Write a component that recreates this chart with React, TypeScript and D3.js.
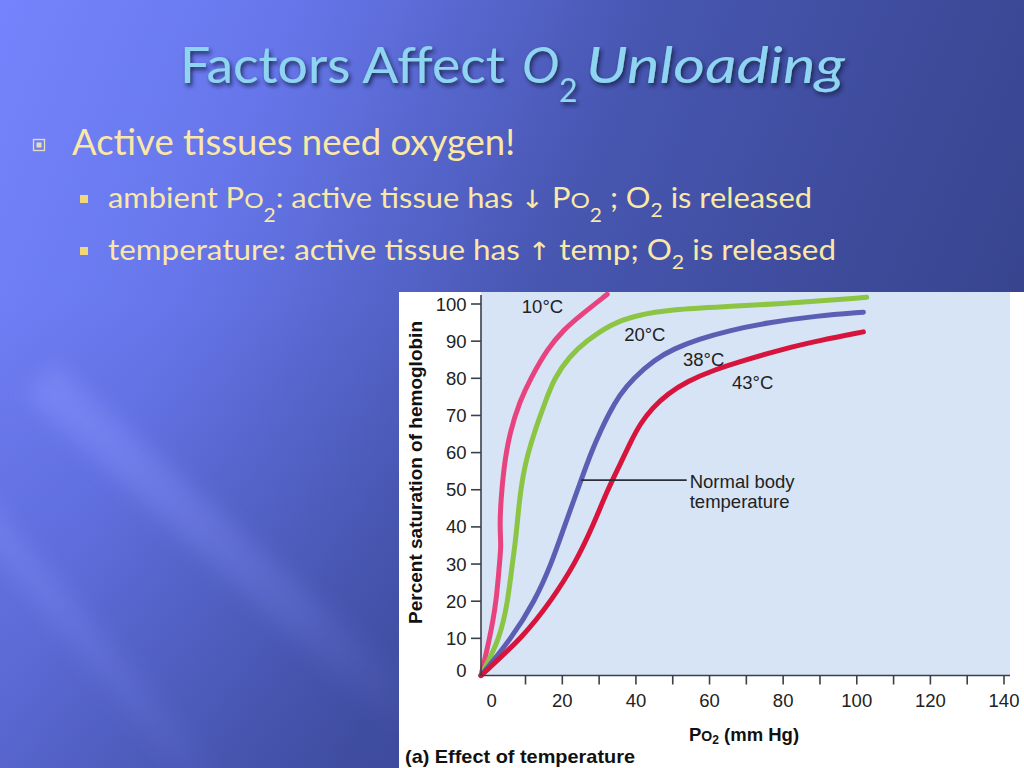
import { useEffect } from 'react';
import * as d3 from 'd3';

type Pt = [number, number];

// curves: [Po2 mm Hg, % saturation]
const CURVE_10C: Pt[] = [[-2.1, 0], [0.3, 10], [2.1, 20], [2.9, 30], [3.4, 35], [3.0, 40], [3.3, 47], [4.1, 56], [5.6, 65], [8.5, 74], [11.4, 80], [16, 88], [20.3, 93], [25, 97], [32.2, 102.6]];
const CURVE_20C: Pt[] = [[-2.1, 0], [3.1, 10], [5.2, 20], [6.4, 30], [7.4, 37], [8.3, 47], [9.6, 56], [12.2, 65], [15.5, 74], [17.8, 80], [22, 86], [26.5, 90], [33, 94.5], [40, 97], [50, 98.6], [65, 99.3], [85, 100.4], [102.7, 101.8]];
const CURVE_38C: Pt[] = [[-2.1, 0], [6.2, 10], [12.5, 20], [17, 30], [20.5, 40], [25.1, 52.6], [28, 60.5], [30.5, 66], [32.4, 70], [35.5, 75.5], [39.3, 80], [45, 85], [50.4, 88], [57, 90.5], [65, 92.8], [76, 95], [89, 96.8], [101.8, 97.8]];
const CURVE_43C: Pt[] = [[-2.1, 0], [9.4, 10.4], [17.1, 20.3], [23.5, 30.2], [28.2, 40], [32.3, 50], [35.8, 57], [38.6, 63], [41.3, 68], [44.5, 72], [48.5, 75.8], [54, 79.2], [61, 82.2], [70, 85], [80, 87.9], [90, 90.2], [101.8, 92.5]];

const SERIES = [
  { label: '10°C', points: CURVE_10C, color: '#e8427f', at: [9, 97.6] as Pt },
  { label: '20°C', points: CURVE_20C, color: '#8cc443', at: [36.8, 90.1] as Pt },
  { label: '38°C', points: CURVE_38C, color: '#5a5fb4', at: [52.8, 83.4] as Pt },
  { label: '43°C', points: CURVE_43C, color: '#d6143c', at: [66.1, 77.1] as Pt },
];

const X_TICKS = d3.range(10, 141, 10);
const X_LABELS = d3.range(0, 141, 20);
const Y_TICKS = d3.range(0, 101, 10);

// leader for "Normal body temperature"
const NORMAL_FROM: Pt = [25.1, 52.6];
const NORMAL_TO: Pt = [53.8, 52.6];
const NORMAL_TEXT = ['Normal body', 'temperature'];

const W = 1024;
const H = 768;
const CHART_FONT = '"Liberation Sans", Arial, sans-serif';
const SLIDE_FONT = 'Lato, "Open Sans", sans-serif';
const YELLOW = '#fbe8a6';

export default function App() {
  useEffect(() => {
    document.body.style.margin = '0';
  }, []);

  const x = d3.scaleLinear().domain([0, 140]).range([488.7, 1004]);
  const y = d3.scaleLinear().domain([0, 100]).range([675.5, 304]);
  const line = d3.line<Pt>().x(d => x(d[0])).y(d => y(d[1])).curve(d3.curveBasis);

  const axisX0 = 481;
  const axisY0 = y(0);
  const plotRight = 1010;
  const panelTop = 292;

  return (
    <svg width={W} height={H} viewBox={`0 0 ${W} ${H}`} style={{ display: 'block' }}>
      <defs>
        <linearGradient id="bg" x1="0" y1="0" x2="1024" y2="420" gradientUnits="userSpaceOnUse">
          <stop offset="0" stopColor="#7584fc" />
          <stop offset="0.25" stopColor="#6676ea" />
          <stop offset="0.55" stopColor="#4756b0" />
          <stop offset="1" stopColor="#36428a" />
        </linearGradient>
        <linearGradient id="shade" x1="0" y1="300" x2="0" y2="768" gradientUnits="userSpaceOnUse">
          <stop offset="0" stopColor="#1e2660" stopOpacity="0" />
          <stop offset="1" stopColor="#1e2660" stopOpacity="0.2" />
        </linearGradient>
        <linearGradient id="streak" x1="0" y1="0" x2="1" y2="0">
          <stop offset="0" stopColor="#8a96ff" stopOpacity="0.45" />
          <stop offset="0.6" stopColor="#8a96ff" stopOpacity="0.2" />
          <stop offset="1" stopColor="#8a96ff" stopOpacity="0" />
        </linearGradient>
        <filter id="soft" x="-20%" y="-50%" width="140%" height="200%">
          <feGaussianBlur stdDeviation="10" />
        </filter>
        <filter id="titleShadow" x="-5%" y="-30%" width="110%" height="160%">
          <feDropShadow dx="2" dy="3" stdDeviation="2" floodColor="#141a48" floodOpacity="0.85" />
        </filter>
      </defs>

      {/* slide background */}
      <rect width={W} height={H} fill="url(#bg)" />
      <rect width={W} height={H} fill="url(#shade)" />
      <g transform="translate(40,380) rotate(42)" filter="url(#soft)">
        <rect x={0} y={-22} width={520} height={44} fill="url(#streak)" />
      </g>
      <g transform="translate(-30,500) rotate(50)" filter="url(#soft)">
        <rect x={0} y={-16} width={400} height={32} fill="url(#streak)" opacity={0.7} />
      </g>

      {/* title */}
      <g fill="#8fd4f0" fontFamily={SLIDE_FONT} fontSize={50} filter="url(#titleShadow)">
        <text x={180} y={83} textLength={325} lengthAdjust="spacingAndGlyphs">Factors Affect</text>
        <text x={522} y={83} fontStyle="italic">O</text>
        <text x={559} y={102} fontSize={32}>2</text>
        <text x={586} y={83} fontStyle="italic" textLength={259} lengthAdjust="spacingAndGlyphs">Unloading</text>
      </g>

      {/* bullets */}
      <g>
        <rect x={33.5} y={139.5} width={11} height={11} fill="none" stroke="#e6dfb8" strokeWidth={1.3} />
        <rect x={36.5} y={142.5} width={5} height={5} fill="#e6dfb8" />
        <rect x={80} y={195} width={8} height={8} fill="#f2d77a" />
        <rect x={80} y={247} width={8} height={8} fill="#f2d77a" />
      </g>
      <g fill={YELLOW} fontFamily={SLIDE_FONT}>
        <text x={72} y={155} fontSize={36} textLength={443} lengthAdjust="spacingAndGlyphs">Active tissues need oxygen!</text>

        <text x={108} y={208} fontSize={28} textLength={704} lengthAdjust="spacingAndGlyphs">
          ambient P<tspan fontSize={22}>O</tspan><tspan fontSize={19} dy={14}>2</tspan>
          <tspan dy={-14}>: active tissue has </tspan><tspan fontFamily="DejaVu Sans" fontSize={25}>↓</tspan>
          <tspan> P</tspan><tspan fontSize={22}>O</tspan><tspan fontSize={19} dy={14}>2</tspan>
          <tspan dy={-14}> ; O</tspan><tspan fontSize={19} dy={9}>2</tspan>
          <tspan dy={-9}> is released</tspan>
        </text>

        <text x={108} y={260} fontSize={28} textLength={728} lengthAdjust="spacingAndGlyphs">
          temperature: active tissue has <tspan fontFamily="DejaVu Sans" fontSize={25}>↑</tspan>
          <tspan> temp; O</tspan><tspan fontSize={19} dy={9}>2</tspan>
          <tspan dy={-9}> is released</tspan>
        </text>
      </g>

      {/* figure panel */}
      <rect x={399} y={panelTop} width={W - 399} height={H - panelTop} fill="#ffffff" />
      <rect x={axisX0} y={panelTop} width={plotRight - axisX0} height={axisY0 - panelTop} fill="#d6e4f6" />

      {/* curves */}
      <g fill="none" strokeWidth={5} strokeLinecap="round" strokeLinejoin="round">
        {SERIES.map(s => (
          <path key={s.label} d={line(s.points) ?? ''} stroke={s.color} />
        ))}
      </g>

      {/* axes */}
      <g stroke="#3a3f4a" strokeWidth={1.6}>
        <line x1={axisX0} x2={axisX0} y1={295} y2={axisY0} />
        <line x1={axisX0} x2={plotRight} y1={axisY0} y2={axisY0} />
        {Y_TICKS.filter(t => t > 0).map(t => (
          <line key={t} x1={axisX0 - 10} x2={axisX0} y1={y(t)} y2={y(t)} />
        ))}
        {X_TICKS.map(t => (
          <line key={t} x1={x(t)} x2={x(t)} y1={axisY0} y2={axisY0 + 9} />
        ))}
      </g>
      <g fill="#222" fontFamily={CHART_FONT} fontSize={18.5}>
        {Y_TICKS.map(t => (
          <text key={t} x={466.5} y={t === 0 ? y(t) + 1 : y(t) + 6.5} textAnchor="end">{t}</text>
        ))}
        {X_LABELS.map(t => (
          <text key={t} x={x(t) + (t === 0 ? 3 : 0)} y={707} textAnchor="middle">{t}</text>
        ))}
        {SERIES.map(s => (
          <text key={s.label} x={x(s.at[0])} y={y(s.at[1])}>{s.label}</text>
        ))}
        {NORMAL_TEXT.map((t, i) => (
          <text key={t} x={x(NORMAL_TO[0]) + 3} y={y(NORMAL_TO[1]) + 7.5 + i * 20}>{t}</text>
        ))}
      </g>
      <line x1={x(NORMAL_FROM[0])} x2={x(NORMAL_TO[0])} y1={y(NORMAL_FROM[1])} y2={y(NORMAL_TO[1])}
        stroke="#2a2e3a" strokeWidth={1.6} />

      {/* axis titles */}
      <g fill="#111" fontFamily={CHART_FONT} fontWeight="bold">
        <text transform={`translate(422,${(318 + 627) / 2}) rotate(-90)`} textAnchor="middle" fontSize={19}>
          Percent saturation of hemoglobin
        </text>
        <text x={689} y={741} fontSize={18.5}>
          P<tspan fontSize={14}>O</tspan><tspan fontSize={12} dy={3}>2</tspan><tspan dy={-3}> (mm Hg)</tspan>
        </text>
        <text x={405} y={763} fontSize={19} textLength={230} lengthAdjust="spacingAndGlyphs">
          (a)  Effect of temperature
        </text>
      </g>
    </svg>
  );
}
